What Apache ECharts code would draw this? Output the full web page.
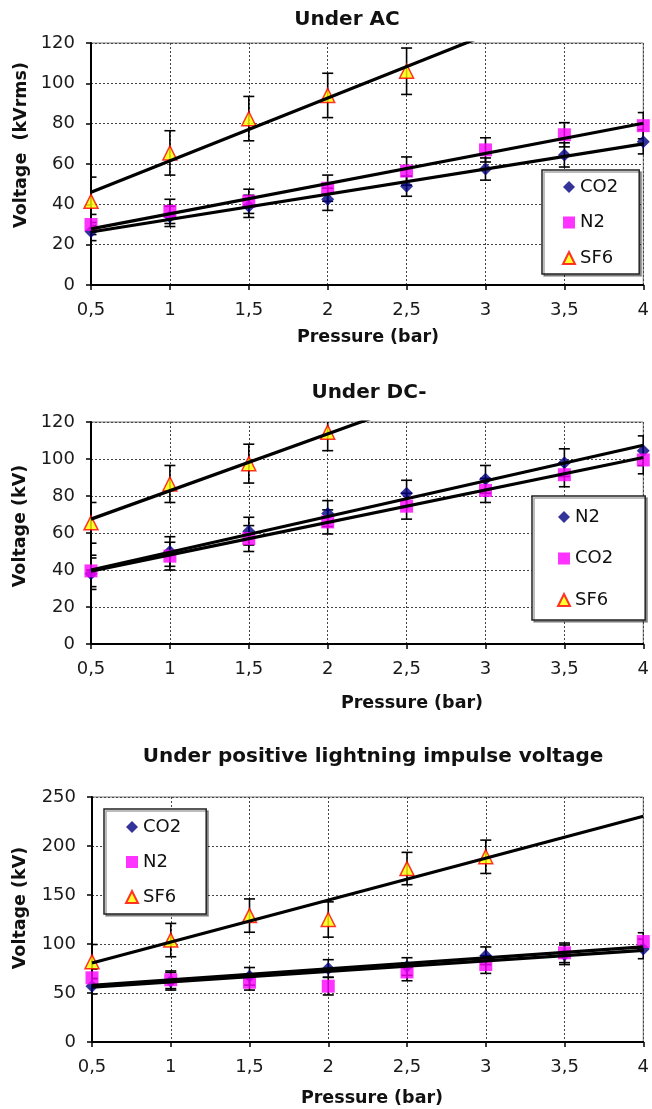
<!DOCTYPE html>
<html>
<head>
<meta charset="utf-8">
<script src="https://cdn.jsdelivr.net/npm/echarts@6/dist/echarts.min.js"></script>
<style>
  html, body { margin: 0; padding: 0; background: #fff; }
  #chart { width: 652px; height: 1109px; }
</style>
</head>
<body>
<div id="chart"></div>
<script>
// ---------- DATA ----------
const pressure = [0.5, 1, 1.5, 2, 2.5, 3, 3.5, 4];
const xTickLabels = ['0,5', '1', '1,5', '2', '2,5', '3', '3,5', '4'];
const trendX = [0.5, 4];

// Under AC
const acCO2 = [26.5, 34, 39, 42.5, 49, 57.5, 64.5, 71];
const acCO2Err = [4.5, 5, 5.5, 5.5, 5, 5.5, 6, 6];
const acN2 = [30, 36.5, 41.5, 48, 56.5, 67, 74.5, 79];
const acN2Err = [5, 6, 6, 6.5, 7, 6, 6, 6.5];
const acSF6 = [41.5, 65.5, 82.5, 94, 106];
const acSF6Err = [12, 11, 11, 11, 11.5];
const acCO2Trend = [26.3, 70];
const acN2Trend = [27.8, 80.2];
const acSF6Trend = [46, 155];

// Under DC-
const dcN2 = [38, 50, 61, 70.5, 81.5, 89, 98, 104.5];
const dcN2Err = [8.5, 8, 7.5, 7, 7, 7.5, 7.5, 8];
const dcCO2 = [39.5, 47.5, 57, 66, 74.5, 83, 91.5, 99.5];
const dcCO2Err = [8.5, 7.5, 7, 6.5, 7, 6.5, 6.5, 7.5];
const dcSF6 = [65.5, 86.5, 97.5, 114.5];
const dcSF6Err = [11, 10, 10.5, 10];
const dcN2Trend = [40, 107.4];
const dcCO2Trend = [39.4, 100.8];
const dcSF6Trend = [67.5, 175];

// Under positive lightning impulse voltage
const liCO2 = [57, 62, 67, 75, 77, 88, 89, 95];
const liCO2Err = [8, 9, 9, 9, 9, 9, 10, 10];
const liN2 = [65.5, 63.5, 61, 57, 71.5, 79, 91, 102.5];
const liN2Err = [9, 9, 8, 9, 9, 9, 10, 9];
const liSF6 = [82, 104, 129, 125, 177, 189];
const liSF6Err = [17.5, 17, 17, 18, 16.5, 17];
const liCO2Trend = [56, 93.5];
const liN2Trend = [57.8, 97];
const liSF6Trend = [80.6, 230.3];

// ---------- STYLE ----------
const FONT = '"DejaVu Sans", "Liberation Sans", sans-serif';
const GRIDS = [
  { left: 91, top: 43, width: 555, height: 242 },
  { left: 91, top: 422, width: 555, height: 222 },
  { left: 92, top: 797, width: 554, height: 245 }
];
const YAX = [
  { max: 120, interval: 20 },
  { max: 120, interval: 20 },
  { max: 250, interval: 50 }
];
const STYLES = {
  diamond: { symbol: 'diamond', symbolSize: 13, itemStyle: { color: '#000080' } },
  square: { symbol: 'rect', symbolSize: 13, itemStyle: { color: '#FF00FF' } },
  triangle: { symbol: 'triangle', symbolSize: 14, itemStyle: { color: '#FFFF00', borderColor: '#FF0000', borderWidth: 1.5 } }
};

function pts(vals) { return vals.map((v, i) => [pressure[i], v]); }
function errs(vals, e) { return vals.map((v, i) => [pressure[i], v - e[i], v + e[i]]); }

const series = [];
function addGroup(g, name, shape, vals, e, trend) {
  const id = g + '|' + name;
  series.push({
    type: 'custom', xAxisIndex: g, yAxisIndex: g, clip: true, silent: true, z: 3,
    data: errs(vals, e),
    encode: { x: 0, y: [1, 2] },
    renderItem: function (params, api) {
      const x = api.value(0);
      const lo = api.coord([x, api.value(1)]);
      const hi = api.coord([x, api.value(2)]);
      const w = 5.5;
      const st = { stroke: '#000', lineWidth: 1.6 };
      return {
        type: 'group',
        children: [
          { type: 'line', shape: { x1: lo[0], y1: lo[1], x2: hi[0], y2: hi[1] }, style: st },
          { type: 'line', shape: { x1: lo[0] - w, y1: lo[1], x2: lo[0] + w, y2: lo[1] }, style: st },
          { type: 'line', shape: { x1: hi[0] - w, y1: hi[1], x2: hi[0] + w, y2: hi[1] }, style: st }
        ]
      };
    }
  });
  series.push(Object.assign({
    name: id, type: 'scatter', xAxisIndex: g, yAxisIndex: g, z: 4, silent: true,
    data: pts(vals)
  }, JSON.parse(JSON.stringify(STYLES[shape]))));
  series.push({
    type: 'line', xAxisIndex: g, yAxisIndex: g, z: 6, silent: true, symbol: 'none', clip: true,
    data: trendX.map((x, i) => [x, trend[i]]),
    lineStyle: { color: '#000', width: 3.2 }
  });
}
addGroup(0, 'CO2', 'diamond', acCO2, acCO2Err, acCO2Trend);
addGroup(0, 'N2', 'square', acN2, acN2Err, acN2Trend);
addGroup(0, 'SF6', 'triangle', acSF6, acSF6Err, acSF6Trend);
addGroup(1, 'N2', 'diamond', dcN2, dcN2Err, dcN2Trend);
addGroup(1, 'CO2', 'square', dcCO2, dcCO2Err, dcCO2Trend);
addGroup(1, 'SF6', 'triangle', dcSF6, dcSF6Err, dcSF6Trend);
addGroup(2, 'CO2', 'diamond', liCO2, liCO2Err, liCO2Trend);
addGroup(2, 'N2', 'square', liN2, liN2Err, liN2Trend);
addGroup(2, 'SF6', 'triangle', liSF6, liSF6Err, liSF6Trend);

function xAxis(g) {
  return {
    type: 'value', gridIndex: g, min: 0.5, max: 4, interval: 0.5,
    axisLine: { show: true, onZero: false, lineStyle: { color: '#000', width: 2 } },
    axisTick: { show: true, length: 5, lineStyle: { color: '#000', width: 1.5 } },
    axisLabel: {
      margin: 16, fontSize: 18, fontFamily: FONT, color: '#1a1a1a',
      formatter: v => xTickLabels[Math.round((v - 0.5) / 0.5)]
    },
    splitLine: { show: true, lineStyle: { color: '#444', width: 1, type: [2, 2] } }
  };
}
function yAxis(g) {
  return {
    type: 'value', gridIndex: g, min: 0, max: YAX[g].max, interval: YAX[g].interval,
    axisLine: { show: true, lineStyle: { color: '#000', width: 2 } },
    axisTick: { show: true, length: 5, lineStyle: { color: '#000', width: 1.5 } },
    axisLabel: { margin: 16, fontSize: 18, fontFamily: FONT, color: '#1a1a1a' },
    splitLine: { show: true, lineStyle: { color: '#444', width: 1, type: [2, 2] } }
  };
}
function legend(g, names, left, top, padding, gap) {
  return {
    orient: 'vertical', left: left, top: top, padding: padding, itemGap: gap,
    itemWidth: 12, itemHeight: 12, selectedMode: false,
    data: names.map(n => g + '|' + n),
    formatter: n => n.split('|')[1],
    textStyle: { fontSize: 18, fontFamily: FONT, color: '#111', lineHeight: 18 },
    borderColor: '#222', borderWidth: 1.5, backgroundColor: '#fff',
    shadowColor: 'rgba(0,0,0,0.35)', shadowOffsetX: 2, shadowOffsetY: 2, shadowBlur: 0
  };
}
function txt(text, x, y, size, rot, sx) {
  return {
    type: 'text', x: x, y: y, rotation: rot || 0, scaleX: sx || 1, z: 10, silent: true,
    style: {
      text: text, fontSize: size, fontWeight: 'bold', fontFamily: FONT, fill: '#111',
      textAlign: 'center', textVerticalAlign: 'middle'
    }
  };
}

const option = {
  animation: false,
  backgroundColor: '#fff',
  grid: GRIDS.map(g => Object.assign({ show: true, borderColor: '#777', borderWidth: 1, backgroundColor: 'transparent' }, g)),
  xAxis: [xAxis(0), xAxis(1), xAxis(2)],
  yAxis: [yAxis(0), yAxis(1), yAxis(2)],
  legend: [
    legend(0, ['CO2', 'N2', 'SF6'], 542, 170, [8, 21, 7, 20], 17.5),
    legend(1, ['N2', 'CO2', 'SF6'], 532, 496, [12, 32, 11, 25], 23.5),
    legend(2, ['CO2', 'N2', 'SF6'], 104, 809, [9, 25, 8, 21], 17)
  ],
  graphic: [
    txt('Under AC', 347, 20, 20),
    txt('Under DC-', 369, 393, 20),
    txt('Under positive lightning impulse voltage', 373, 757, 20),
    txt('Pressure (bar)', 368, 337, 17.5),
    txt('Pressure (bar)', 412, 703, 17.5),
    txt('Pressure (bar)', 372, 1098, 17.5),
    txt('Voltage  (kVrms)', 21, 145, 17.5, Math.PI / 2),
    txt('Voltage (kV)', 20, 526, 17.5, Math.PI / 2),
    txt('Voltage (kV)', 20, 908, 17.5, Math.PI / 2)
  ],
  series: series
};

const chart = echarts.init(document.getElementById('chart'), null, { renderer: 'canvas' });
chart.setOption(option);
</script>
</body>
</html>
